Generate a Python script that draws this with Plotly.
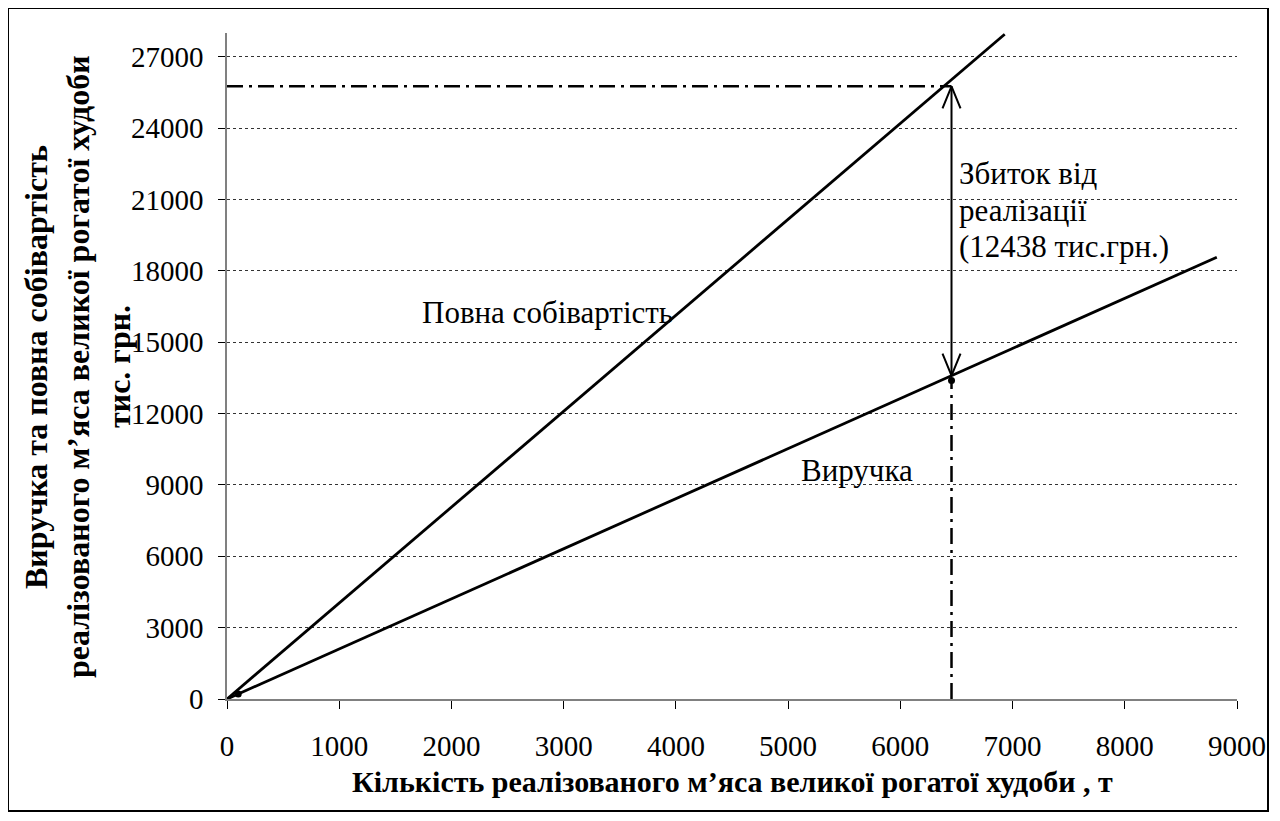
import plotly.graph_objects as go

# ---- data ----
x_ticks = [0, 1000, 2000, 3000, 4000, 5000, 6000, 7000, 8000, 9000]
y_ticks = [0, 3000, 6000, 9000, 12000, 15000, 18000, 21000, 24000, 27000]

cost_x = [0, 6930]          # повна собівартість
cost_y = [0, 27950]
revenue_x = [0, 8820]       # виручка
revenue_y = [0, 18570]

point_x = [100, 6456]
point_y = [210, 13390]

q_sold = 6456               # реалізовано, т
cost_at_q = 25760
revenue_at_q = 13600
loss = 12438

FONT = "Liberation Serif, Times New Roman, serif"
BLACK = "#000000"

# page is offset by the 8px body margin; plot area in page px: x 227..1237, y 33..699
def px(page_x):
    return (page_x - 227) / 1010.0

def py(page_y):
    return (699 - page_y) / 666.0

fig = go.Figure()

fig.add_trace(go.Scatter(x=cost_x, y=cost_y, mode="lines",
                         line=dict(color=BLACK, width=2.8), hoverinfo="skip"))
fig.add_trace(go.Scatter(x=revenue_x, y=revenue_y, mode="lines",
                         line=dict(color=BLACK, width=2.8), hoverinfo="skip"))

dd = "16px,6px,3px,6px"
fig.add_trace(go.Scatter(x=[0, q_sold], y=[cost_at_q, cost_at_q], mode="lines",
                         line=dict(color=BLACK, width=2.5, dash=dd), hoverinfo="skip"))
fig.add_trace(go.Scatter(x=[q_sold, q_sold], y=[0, point_y[1]], mode="lines",
                         line=dict(color=BLACK, width=2.5, dash=dd), hoverinfo="skip"))

fig.add_trace(go.Scatter(x=[q_sold, q_sold], y=[cost_at_q, revenue_at_q], mode="lines",
                         line=dict(color=BLACK, width=2), hoverinfo="skip"))
ux = 9000 / 1010.0
uy = 28000 / 666.0
hw, hl = 9 * ux, 22 * uy
fig.add_trace(go.Scatter(x=[q_sold - hw, q_sold, q_sold + hw],
                         y=[cost_at_q - hl, cost_at_q, cost_at_q - hl], mode="lines",
                         line=dict(color=BLACK, width=2), hoverinfo="skip"))
fig.add_trace(go.Scatter(x=[q_sold - hw, q_sold, q_sold + hw],
                         y=[revenue_at_q + hl, revenue_at_q, revenue_at_q + hl], mode="lines",
                         line=dict(color=BLACK, width=2), hoverinfo="skip"))

fig.add_trace(go.Scatter(x=point_x, y=point_y, mode="markers",
                         marker=dict(color=BLACK, size=7), cliponaxis=False, hoverinfo="skip"))

annotations = [
    dict(x=2858, y=16240, xref="x", yref="y", text="Повна собівартість", showarrow=False,
         font=dict(family=FONT, size=31, color=BLACK), xanchor="center", yanchor="middle"),
    dict(x=5612, y=9620, xref="x", yref="y", text="Виручка", showarrow=False,
         font=dict(family=FONT, size=31, color=BLACK), xanchor="center", yanchor="middle"),
]
loss_lines = ["Збиток від", "реалізації", "(" + str(loss) + " тис.грн.)"]
for line, yc in zip(loss_lines, [173, 211, 247]):
    annotations.append(dict(x=px(957), y=py(yc), xref="paper", yref="paper", text=line,
                            showarrow=False, align="left",
                            font=dict(family=FONT, size=31, color=BLACK),
                            xanchor="left", yanchor="middle"))
annotations.append(dict(x=0.5, y=py(782), xref="paper", yref="paper",
                        text="<b>Кількість реалізованого м’яса великої рогатої худоби , т</b>",
                        showarrow=False, font=dict(family=FONT, size=30, color=BLACK),
                        xanchor="center", yanchor="middle"))
ytitle_lines = ["Виручка та повна собівартість",
                "реалізованого м’яса великої рогатої худоби",
                "тис. грн."]
for line, xc in zip(ytitle_lines, [36, 78, 119]):
    annotations.append(dict(x=px(xc), y=py(367), xref="paper", yref="paper",
                            text="<b>" + line + "</b>", showarrow=False, textangle=-90,
                            font=dict(family=FONT, size=32, color=BLACK),
                            xanchor="center", yanchor="middle"))

fig.update_layout(
    width=1272, height=813,
    margin=dict(l=219, r=43, t=25, b=122),
    paper_bgcolor="white", plot_bgcolor="white",
    showlegend=False,
    font=dict(family=FONT, size=29, color=BLACK),
    annotations=annotations,
    shapes=[dict(type="rect", xref="paper", yref="paper",
                 x0=px(8), x1=px(1268), y0=py(811), y1=py(8),
                 line=dict(color=BLACK, width=2))],
)
fig.update_xaxes(range=[0, 9000], tickvals=x_ticks, ticktext=[str(v) for v in x_ticks],
                 showgrid=False, zeroline=False, showline=True, linecolor="#808080",
                 linewidth=1.5, ticks="outside", ticklen=8, tickcolor=BLACK, tickwidth=1,
                 ticklabelstandoff=12,
                 tickfont=dict(family=FONT, size=29, color=BLACK))
fig.update_yaxes(range=[0, 28000], tickvals=y_ticks, ticktext=[str(v) for v in y_ticks],
                 showgrid=True, gridcolor="#333333", griddash="dot", gridwidth=1,
                 zeroline=False, showline=True, linecolor="#808080", linewidth=1.5,
                 ticks="outside", ticklen=7, tickcolor=BLACK, tickwidth=1,
                 ticklabelstandoff=9,
                 tickfont=dict(family=FONT, size=29, color=BLACK))

fig.write_html("out.html")
